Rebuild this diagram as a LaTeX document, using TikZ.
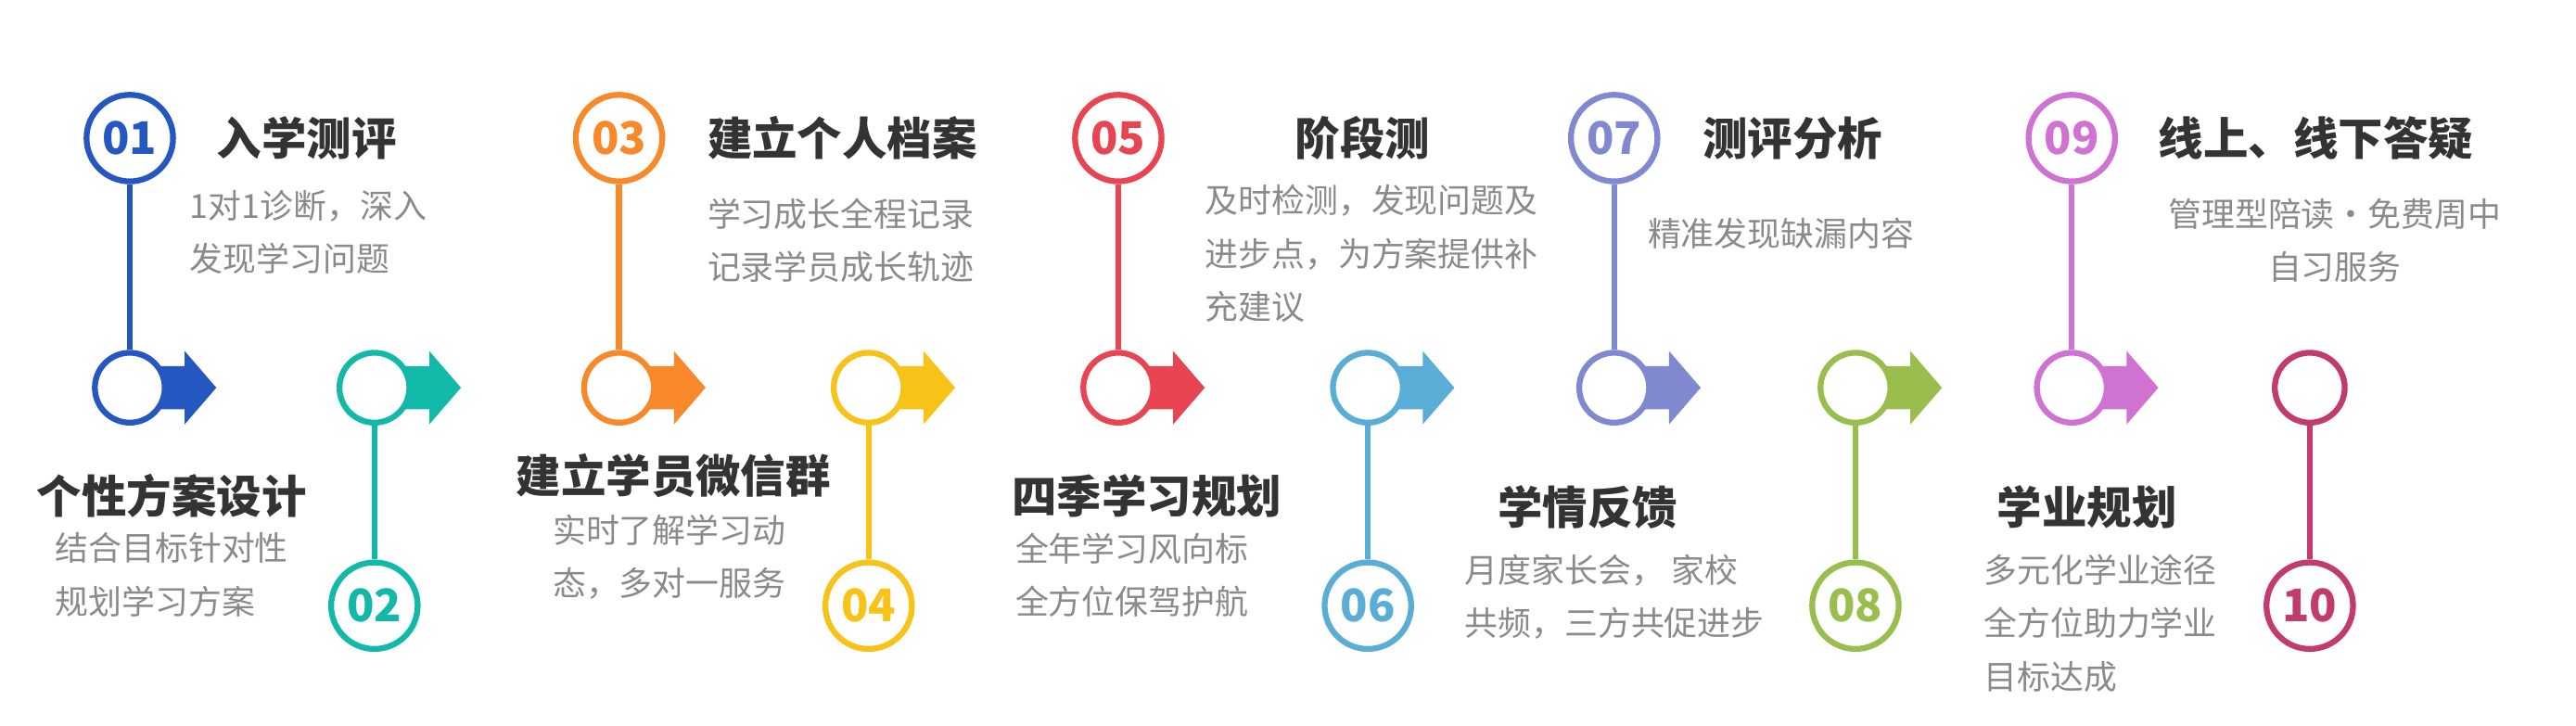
\documentclass[tikz,border=0pt]{standalone}
\usepackage{fontspec}
\newfontfamily\cjk{Noto Sans CJK SC}
\definecolor{c1}{HTML}{2557C0}\definecolor{c2}{HTML}{13B9A8}
\definecolor{c3}{HTML}{F7892A}\definecolor{c4}{HTML}{F8C319}
\definecolor{c5}{HTML}{E84452}\definecolor{c6}{HTML}{5AAED6}
\definecolor{c7}{HTML}{8089CF}\definecolor{c8}{HTML}{99BE4D}
\definecolor{c9}{HTML}{CF72D2}\definecolor{c10}{HTML}{C23B6E}
\definecolor{tt}{HTML}{333333}\definecolor{dd}{HTML}{8A8A8A}
\tikzset{
 numc/.style={circle,draw=#1,line width=3.5pt,fill=white,minimum size=52pt,inner sep=0pt,text=#1,font=\cjk\bfseries\fontsize{27}{27}\selectfont},
 plainc/.style={circle,draw=#1,line width=3.5pt,fill=white,minimum size=42pt,inner sep=0pt},
 stem/.style={draw=#1,line width=3.5pt},
 ttl/.style={text=tt,font=\cjk\bfseries\fontsize{27}{27}\selectfont,inner sep=0pt},
 dsc/.style={text=dd,font=\cjk\fontsize{20}{32}\selectfont,inner sep=0pt,align=left},
}
\begin{document}
\begin{tikzpicture}[x=1pt,y=-1pt]
\useasboundingbox (0,0) rectangle (1548,436);
\foreach \i/\x in {1/78,2/225,3/372,4/522,5/672,6/822,7/970,8/1115,9/1245,10/1388}{
  \ifnum\i<10
   \fill[c\i] (\x+15,233-13) -- (\x+33,233-13) -- (\x+33,233-22) -- (\x+52,233) -- (\x+33,233+22) -- (\x+33,233+13) -- (\x+15,233+13) -- cycle;
  \fi
  \node[plainc=c\i] (p\i) at (\x,233) {};
  \ifodd\i
    \node[numc=c\i] (n\i) at (\x,83) {0\i};
  \else
    \ifnum\i=10 \node[numc=c\i] (n\i) at (\x,364) {\i};
    \else \node[numc=c\i] (n\i) at (\x,364) {0\i};\fi
  \fi
  \draw[stem=c\i] (n\i) -- (p\i);
}
\node[ttl,anchor=west] (t1) at (130,83) {入学测评};
\node[dsc,anchor=north west] (d1) at (114,114) {1对1诊断，深入\\发现学习问题};
\node[ttl,anchor=west] (t3) at (425,83) {建立个人档案};
\node[dsc,anchor=north west] (d3) at (425,119) {学习成长全程记录\\记录学员成长轨迹};
\node[ttl,anchor=west] (t5) at (778,83) {阶段测};
\node[dsc,anchor=north west] (d5) at (724,111) {及时检测，发现问题及\\进步点，为方案提供补\\充建议};
\node[ttl,anchor=west] (t7) at (1023,83) {测评分析};
\node[dsc,anchor=north west] (d7) at (990,131) {精准发现缺漏内容};
\node[ttl,anchor=west] (t9) at (1297,83) {线上、线下答疑};
\node[dsc,anchor=north,align=center] (d9) at (1403,119) {管理型陪读·免费周中\\自习服务};
\node[ttl,anchor=west] (t2) at (22,298) {个性方案设计};
\node[dsc,anchor=north west] (d2) at (33,320) {结合目标针对性\\规划学习方案};
\node[ttl,anchor=west] (t4) at (310,286) {建立学员微信群};
\node[dsc,anchor=north west] (d4) at (332,309) {实时了解学习动\\态，多对一服务};
\node[ttl,anchor=west] (t6) at (608,298) {四季学习规划};
\node[dsc,anchor=north west] (d6) at (610,320) {全年学习风向标\\全方位保驾护航};
\node[ttl,anchor=west] (t8) at (900,305) {学情反馈};
\node[dsc,anchor=north west] (d8) at (880,333) {月度家长会，\ 家校\\共频，三方共促进步};
\node[ttl,anchor=west] (t10) at (1200,305) {学业规划};
\node[dsc,anchor=north west] (d10) at (1192,333) {多元化学业途径\\全方位助力学业\\目标达成};
\end{tikzpicture}
\end{document}
